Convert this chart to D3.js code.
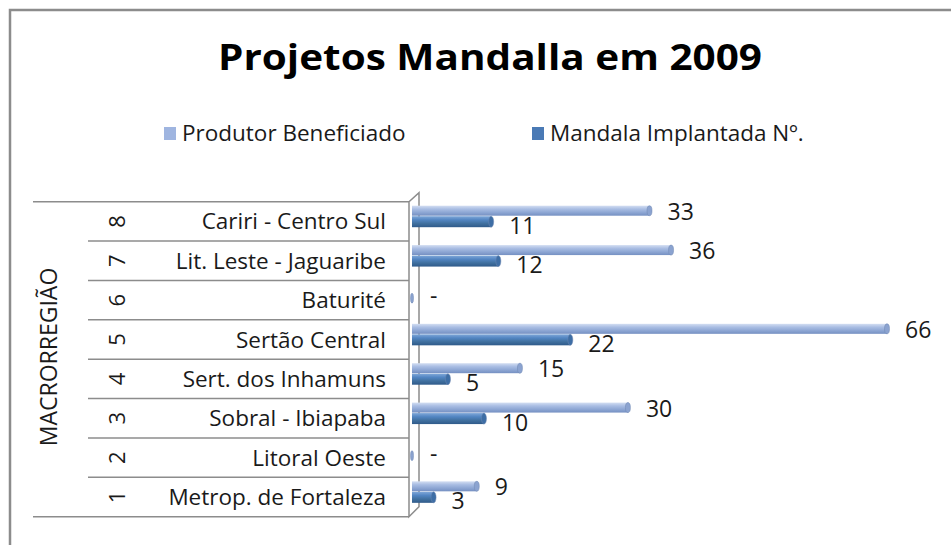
<!DOCTYPE html>
<html>
<head>
<meta charset="utf-8">
<script src="https://cdn.jsdelivr.net/npm/d3@7"></script>
<style>
  body { margin: 0; background: #fff; }
  svg text { font-family: "Open Sans", Lato, sans-serif; fill: #1a1a1a; }
</style>
</head>
<body>
<svg id="chart" width="951" height="545"></svg>
<script>
// data (index 0 = region 1)
const codes = ["1", "2", "3", "4", "5", "6", "7", "8"];
const regions = ["Metrop. de Fortaleza", "Litoral Oeste", "Sobral - Ibiapaba", "Sert. dos Inhamuns",
                 "Sertão Central", "Baturité", "Lit. Leste - Jaguaribe", "Cariri - Centro Sul"];
const produtor = [9, 0, 30, 15, 66, 0, 36, 33];
const mandala = [3, 0, 10, 5, 22, 0, 12, 11];
const seriesNames = ["Produtor Beneficiado", "Mandala Implantada Nº."];

const svg = d3.select('#chart');

// outer frame (runs off the right and bottom edge)
svg.append('rect')
    .attr('x', 10).attr('y', 10)
    .attr('width', 960).attr('height', 560)
    .attr('fill', '#fff')
    .attr('stroke', '#8c8c8c')
    .attr('stroke-width', 2.5);

// gradients for the cylinder-ish bars
const defs = svg.append('defs');
const grads = [
    { id: 'gLight', stops: ['#d3def2', '#a9bde3', '#8ea7d4', '#7590c2'] },
    { id: 'gDark', stops: ['#7fa7d8', '#5285c2', '#40709f', '#2f5a8a'] }
];
grads.forEach(g => {
    let lg = defs.append('linearGradient').attr('id', g.id)
        .attr('x1', 0).attr('y1', 0).attr('x2', 0).attr('y2', 1);
    g.stops.forEach((c, i) => lg.append('stop')
        .attr('offset', i / (g.stops.length - 1)).attr('stop-color', c));
});

// title
svg.append('text')
    .attr('x', 218).attr('y', 70)
    .attr('textLength', 544)
    .attr('lengthAdjust', 'spacingAndGlyphs')
    .style('font-size', '36px')
    .style('font-weight', 'bold')
    .style('fill', '#000')
    .text('Projetos Mandalla em 2009');

// legend
const legend = svg.append('g');
const legX = [164, 532];
seriesNames.forEach((name, i) => {
    legend.append('rect')
        .attr('x', legX[i]).attr('y', 127)
        .attr('width', 12).attr('height', 13)
        .attr('fill', i === 0 ? '#9fb5e0' : '#4a7ab5');
    legend.append('text')
        .attr('x', legX[i] + 18).attr('y', 141)
        .style('font-size', '22.5px')
        .text(name);
});

// scales
const plotTop = 201.7, plotBottom = 516.7;
const y = d3.scaleBand()
    .domain(codes.slice().reverse())
    .range([plotTop, plotBottom]);
const x = d3.scaleLinear()
    .domain([0, 66])
    .range([412, 887]);

// category table on the left
const table = svg.append('g').attr('stroke', '#8c8c8c').attr('stroke-width', 1.5);
table.append('line').attr('x1', 33).attr('x2', 409).attr('y1', plotTop).attr('y2', plotTop);
table.append('line').attr('x1', 33).attr('x2', 409).attr('y1', plotBottom).attr('y2', plotBottom);
codes.slice(0, -1).forEach(c => {
    table.append('line')
        .attr('x1', 88).attr('x2', 409)
        .attr('y1', y(c)).attr('y2', y(c));
});

// 3d wall of the category axis
const wall = svg.append('g').attr('fill', 'none').attr('stroke', '#8c8c8c').attr('stroke-width', 1.5);
wall.append('path').attr('d', `M409,${plotTop} V${plotBottom} L419,${plotBottom - 10} V${plotTop - 9} L409,${plotTop}`);

const labels = svg.append('g');
codes.forEach((c, i) => {
    let cy = y(c) + y.bandwidth() / 2;
    labels.append('text')
        .attr('transform', `translate(125,${cy}) rotate(-90)`)
        .attr('text-anchor', 'middle')
        .style('font-size', '22px')
        .text(c);
    labels.append('text')
        .attr('x', 386).attr('y', cy + 8)
        .attr('text-anchor', 'end')
        .style('font-size', '22.5px')
        .text(regions[i]);
});

svg.append('text')
    .attr('transform', `translate(57,${357}) rotate(-90)`)
    .attr('text-anchor', 'middle')
    .style('font-size', '23px')
    .text('MACRORREGIÃO');

// bars
const series = [
    { values: produtor, fill: 'url(#gLight)', cap: '#8ba3d0', off: 4, h: 10, labDy: 9 },
    { values: mandala, fill: 'url(#gDark)', cap: '#3e6ea5', off: 14.5, h: 11, labDy: 12 }
];
const bars = svg.append('g');
series.forEach((s, si) => {
    let rows = codes.map((c, i) => ({ code: c, v: s.values[i] }));
    let g = bars.append('g');
    g.selectAll('rect')
        .data(rows.filter(d => d.v > 0))
        .join('rect')
        .attr('x', x(0))
        .attr('y', d => y(d.code) + s.off)
        .attr('width', d => x(d.v) - x(0))
        .attr('height', s.h)
        .attr('fill', s.fill);
    // zero bars only leave one small sliver, placed mid-row
    g.selectAll('ellipse')
        .data(rows.filter(d => d.v > 0 || si === 0))
        .join('ellipse')
        .attr('cx', d => x(d.v))
        .attr('cy', d => d.v > 0 ? y(d.code) + s.off + s.h / 2 : y(d.code) + y.bandwidth() / 2 - 2)
        .attr('rx', d => d.v > 0 ? 2.5 : 1.5)
        .attr('ry', s.h / 2)
        .attr('fill', s.cap)
        .attr('stroke', '#6f86b0')
        .attr('stroke-width', 0.5);
    g.selectAll('text')
        .data(rows.filter(d => d.v > 0 || si === 0))
        .join('text')
        .attr('x', d => x(d.v) + 18)
        .attr('y', d => d.v > 0 ? y(d.code) + s.off + s.h / 2 + s.labDy : y(d.code) + y.bandwidth() / 2 + 4)
        .style('font-size', '23px')
        .text(d => d.v > 0 ? d.v : '-');
});
</script>
</body>
</html>
